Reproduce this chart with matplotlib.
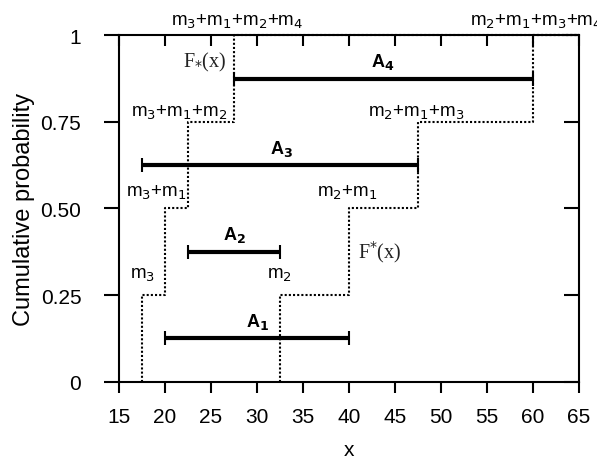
import matplotlib
matplotlib.use("Agg")
from matplotlib import pyplot as plt

plt.rcParams["font.family"] = ["Liberation Sans", "DejaVu Sans"]

# step functions: jump positions and levels
lower_x = [17.5, 20, 22.5, 27.5]
upper_x = [32.5, 40, 47.5, 60]
levels = [0.25, 0.5, 0.75, 1.0]

# focal intervals
interval_names = ["A$_\\mathbf{1}$", "A$_\\mathbf{2}$", "A$_\\mathbf{3}$", "A$_\\mathbf{4}$"]
interval_lo = [20, 22.5, 17.5, 27.5]
interval_hi = [40, 32.5, 47.5, 60]
interval_y = [0.125, 0.375, 0.625, 0.875]
interval_label_x = [30.1, 27.6, 32.7, 43.7]

lower_labels = ["m$_3$", "m$_3$+m$_1$", "m$_3$+m$_1$+m$_2$", "m$_3$+m$_1$+m$_2$+m$_4$"]
lower_label_x = [17.6, 19.1, 21.6, 27.9]
upper_labels = ["m$_2$", "m$_2$+m$_1$", "m$_2$+m$_1$+m$_3$", "m$_2$+m$_1$+m$_3$+m$_4$"]
upper_label_x = [32.5, 39.8, 47.3, 60.3]
label_y = [0.31, 0.547, 0.78, 1.04]

xticks = [15, 20, 25, 30, 35, 40, 45, 50, 55, 60, 65]
yticks = [0, 0.25, 0.5, 0.75, 1]
ytick_labels = ["0", "0.25", "0.50", "0.75", "1"]

fig = plt.figure(figsize=(5.97, 4.64), dpi=100)
ax = fig.add_axes([0.199, 0.175, 0.771, 0.747])

for xs in (lower_x, upper_x):
    sx = [xs[0]] + xs + [65]
    sy = [0] + levels + [levels[-1]]
    ax.step(sx, sy, where="post", color="black", ls=(0, (1, 1)), lw=1.5, clip_on=False)

for lo, hi, y in zip(interval_lo, interval_hi, interval_y):
    ax.errorbar([(lo + hi) / 2], [y], xerr=[[(hi - lo) / 2], [(hi - lo) / 2]],
                fmt="none", ecolor="black", elinewidth=3, capsize=4.7, capthick=1.5)

for name, xl, y in zip(interval_names, interval_label_x, interval_y):
    ax.text(xl, y + 0.05, name, ha="center", va="center", fontsize=13, fontweight="bold")

for lab, xl, y in zip(lower_labels, lower_label_x, label_y):
    ax.text(xl, y, lab, ha="center", va="center", fontsize=13.5, clip_on=False)
for lab, xl, y in zip(upper_labels, upper_label_x, label_y):
    ax.text(xl, y, lab, ha="center", va="center", fontsize=13.5, clip_on=False)

ax.text(24.3, 0.925, r"F$_{*}$(x)", ha="center", va="center", fontsize=14.5,
        family=["Liberation Serif", "DejaVu Serif"], color="#222222")
ax.text(43.3, 0.378, r"F$^{*}$(x)", ha="center", va="center", fontsize=14.5,
        family=["Liberation Serif", "DejaVu Serif"], color="#222222")

ax.set_xlim(15, 65)
ax.set_ylim(0, 1)
ax.set_xticks(xticks)
ax.set_yticks(yticks, ytick_labels)
ax.tick_params(axis="both", which="both", labelsize=15, width=1.5,
               top=True, right=True)
ax.tick_params(axis="x", direction="out", length=8, pad=10)
ax.tick_params(axis="y", direction="out", length=11, pad=16)
# mirrored ticks on top/right point into the plot
for t in ax.xaxis.get_major_ticks():
    t.tick2line.set_marker(matplotlib.lines.TICKDOWN)
for t in ax.yaxis.get_major_ticks():
    t.tick2line.set_marker(matplotlib.lines.TICKLEFT)
for s in ax.spines.values():
    s.set_linewidth(1.5)

ax.set_xlabel("x", fontsize=15, labelpad=10)
ax.set_ylabel("Cumulative probability", fontsize=17, labelpad=4)

fig.savefig("out.png", dpi=100)
